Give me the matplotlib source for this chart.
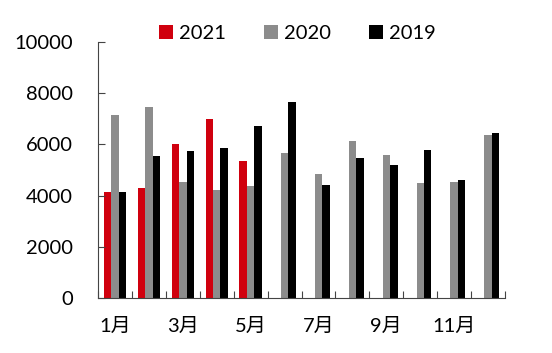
import matplotlib.pyplot as plt
import numpy as np

plt.rcParams['font.family'] = ['Lato', 'Noto Sans CJK SC', 'DejaVu Sans']

months = ["1月", "2月", "3月", "4月", "5月", "6月", "7月", "8月", "9月", "10月", "11月", "12月"]
tick_labels = ["1月", "", "3月", "", "5月", "", "7月", "", "9月", "", "11月", ""]
v2021 = [4150, 4300, 6030, 7000, 5350]
v2020 = [7150, 7450, 4520, 4220, 4370, 5650, 4840, 6130, 5570, 4500, 4540, 6350]
v2019 = [4150, 5550, 5740, 5850, 6730, 7640, 4400, 5480, 5210, 5780, 4600, 6430]

fig = plt.figure(figsize=(5.52, 3.53), dpi=100)
ax = fig.add_axes([0.1775, 0.156, 0.7375, 0.725])

x = np.arange(len(months))
w = 0.22
ax.bar(x[:len(v2021)] - w, v2021, w, color="#d0000e", label="2021")
ax.bar(x, v2020, w, color="#8c8c8c", label="2020")
ax.bar(x + w, v2019, w, color="black", label="2019")

ax.set_xlim(-0.5, 11.5)
ax.set_ylim(0, 10000)
ax.set_yticks(np.arange(0, 10001, 2000))
ax.set_xticks(x)
ax.set_xticklabels(tick_labels)
ax.set_xticks(np.arange(-0.5, 12, 1), minor=True)

ax.tick_params(axis="x", which="major", length=0, pad=14, labelsize=14.5)
ax.tick_params(axis="x", which="minor", direction="in", length=5, width=0.8, color="#444444")
ax.tick_params(axis="y", direction="in", length=5, width=0.8, color="#444444", pad=18, labelsize=14.5)

for s in ["top", "right"]:
    ax.spines[s].set_visible(False)
for s in ["left", "bottom"]:
    ax.spines[s].set_color("#444444")
    ax.spines[s].set_linewidth(0.8)

ax.legend(loc="center", bbox_to_anchor=(0.49, 1.035), ncol=3, frameon=False,
          fontsize=14.5, handlelength=0.7, handleheight=0.7, handletextpad=0.3,
          columnspacing=1.9)

fig.savefig("out.png", dpi=100)
